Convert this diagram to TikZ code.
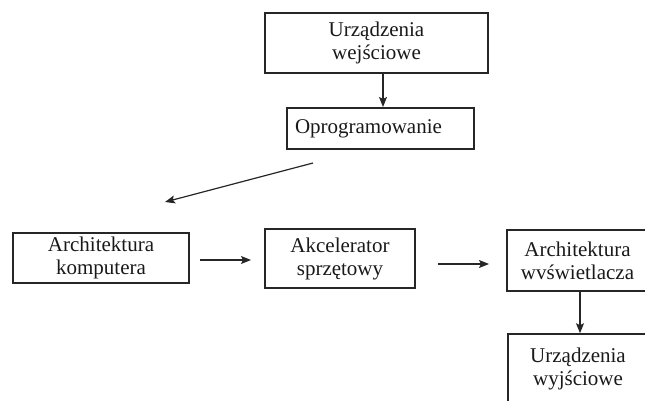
\documentclass[tikz,border=0pt]{standalone}
\usepackage{fontspec}
\setmainfont{Liberation Serif}
\usetikzlibrary{arrows.meta}
\begin{document}
\begin{tikzpicture}[x=1pt,y=-1pt,
  box/.style={draw=black!85,line width=1.6pt,rectangle,inner sep=0pt,align=center,
    font=\fontsize{21}{23}\selectfont,text=black!90},
  conn/.style={draw=black!85,line width=1.2pt,-{Stealth[length=10pt,width=8pt,inset=2pt]}}]
\useasboundingbox (0,0) rectangle (645,401);
\node[box,minimum width=223pt,minimum height=60pt] (we) at (376.5,43) {Urządzenia\\wejściowe};
\node[box,minimum width=187pt,minimum height=41pt,text width=171pt,align=left,inner xsep=8pt] (op) at (380.5,128.5) {Oprogramowanie};
\node[box,minimum width=176pt,minimum height=50pt] (ak) at (101,258) {Architektura\\komputera};
\node[box,minimum width=150pt,minimum height=59pt] (as) at (340,258.5) {Akcelerator\\sprzętowy};
\node[box,minimum width=141pt,minimum height=61pt] (aw) at (577.5,260.5) {Architektura\\wvświetlacza};
\node[box,minimum width=140pt,minimum height=70pt] (wy) at (578,369) {Urządzenia\\wyjściowe};
\coordinate (s1) at (313,163);
\coordinate (e1) at (165,202);
\coordinate (s2) at (200,260);
\coordinate (e2) at (251,260);
\coordinate (s3) at (438,264);
\coordinate (e3) at (489,264);
\draw[conn] (we.south -| 383,0) -- (383,107);
\draw[conn] (s1) -- (e1);
\draw[conn] (s2) -- (e2);
\draw[conn] (s3) -- (e3);
\draw[conn] (aw.south -| 580,0) -- (wy.north -| 580,0);
\end{tikzpicture}
\end{document}
